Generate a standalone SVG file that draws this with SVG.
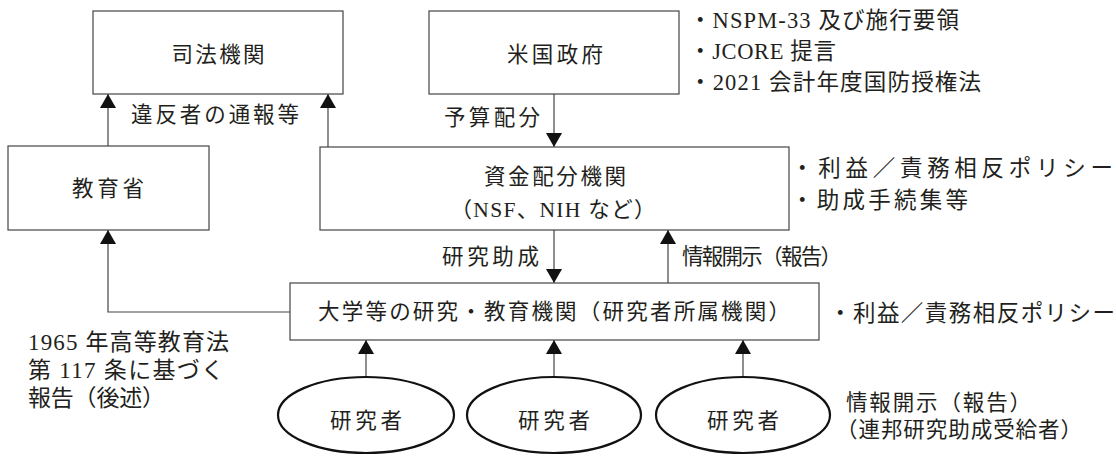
<svg xmlns="http://www.w3.org/2000/svg" width="1116" height="459" viewBox="0 0 1116 459">
<style>
.box{fill:#fff;stroke:#444;stroke-width:1.2}
.ell{fill:#fff;stroke:#111;stroke-width:2.2}
.con{fill:none;stroke:#444;stroke-width:1.2}
text{font-family:"Liberation Serif","Noto Sans CJK JP",serif;font-size:21.5px;fill:#231f20;dominant-baseline:central}
.n{font-size:22.5px}
.h{font-size:23px}
.c{text-anchor:middle}
</style>
<defs>
<marker id="ah" markerUnits="userSpaceOnUse" markerWidth="14" markerHeight="16" viewBox="0 0 14 16" refX="14" refY="8" orient="auto">
<path d="M0,0 L14,8 L0,16 z" fill="#111"/>
</marker>
</defs>
<g id="connectors">
<path class="con" d="M108,146 L108,94" marker-end="url(#ah)"/>
<path class="con" d="M328,147 L328,94" marker-end="url(#ah)"/>
<path class="con" d="M554,94 L554,147" marker-end="url(#ah)"/>
<path class="con" d="M554,230 L554,283" marker-end="url(#ah)"/>
<path class="con" d="M668,283 L668,230" marker-end="url(#ah)"/>
<path class="con" d="M290,312 L108,312 L108,230" marker-end="url(#ah)"/>
<path class="con" d="M366,377 L366,340" marker-end="url(#ah)"/>
<path class="con" d="M554,377 L554,340" marker-end="url(#ah)"/>
<path class="con" d="M743,377 L743,340" marker-end="url(#ah)"/>
<text x="131" y="115" textLength="168">違反者の通報等</text>
<text x="444" y="118" textLength="96">予算配分</text>
<text x="442" y="257" textLength="97">研究助成</text>
<text x="682" y="257" textLength="160">情報開示（報告）</text>
</g>
<g id="shiho">
<rect class="box" x="93" y="11" width="250" height="83"/>
<text class="c" x="218" y="55" textLength="93">司法機関</text>
</g>
<g id="beikoku">
<rect class="box" x="429" y="11" width="250" height="83"/>
<text class="c" x="555" y="55" textLength="96">米国政府</text>
</g>
<g id="beikoku-notes">
<text class="n" x="689" y="20" textLength="270">・NSPM-33 及び施行要領</text>
<text class="n" x="689" y="51" textLength="147">・JCORE 提言</text>
<text class="n" x="689" y="82" textLength="292">・2021 会計年度国防授権法</text>
</g>
<g id="kyoikusho">
<rect class="box" x="8" y="146" width="201" height="84"/>
<text class="c" x="108" y="189" textLength="72">教育省</text>
</g>
<g id="shikin">
<rect class="box" x="320" y="147" width="469" height="83"/>
<text class="c" x="555" y="177" textLength="142">資金配分機関</text>
<text class="c" x="553" y="210" textLength="205">（NSF、NIH など）</text>
</g>
<g id="shikin-notes">
<text class="n" x="791" y="168" textLength="322">・利益／責務相反ポリシー</text>
<text class="n" x="791" y="200" textLength="177">・助成手続集等</text>
</g>
<g id="daigaku">
<rect class="box" x="290" y="283" width="529" height="57"/>
<text class="c" x="554" y="312" textLength="472">大学等の研究・教育機関（研究者所属機関）</text>
</g>
<g id="daigaku-notes">
<text class="n" x="829" y="313" textLength="286">・利益／責務相反ポリシー</text>
</g>
<g id="hea-note">
<text class="h" x="28" y="342" textLength="201">1965 年高等教育法</text>
<text class="h" x="28" y="370" textLength="196">第 117 条に基づく</text>
<text class="h" x="28" y="398" textLength="137">報告（後述）</text>
</g>
<g id="researcher1">
<ellipse class="ell" cx="366" cy="415" rx="88" ry="38"/>
<text class="c" x="366" y="421" textLength="72">研究者</text>
</g>
<g id="researcher2">
<ellipse class="ell" cx="554" cy="415" rx="87" ry="38"/>
<text class="c" x="554" y="421" textLength="72">研究者</text>
</g>
<g id="researcher3">
<ellipse class="ell" cx="743" cy="415" rx="87" ry="38"/>
<text class="c" x="743" y="421" textLength="72">研究者</text>
</g>
<g id="researcher-notes">
<text x="846" y="403" textLength="185">情報開示（報告）</text>
<text x="836" y="430" textLength="246">（連邦研究助成受給者）</text>
</g>
</svg>
